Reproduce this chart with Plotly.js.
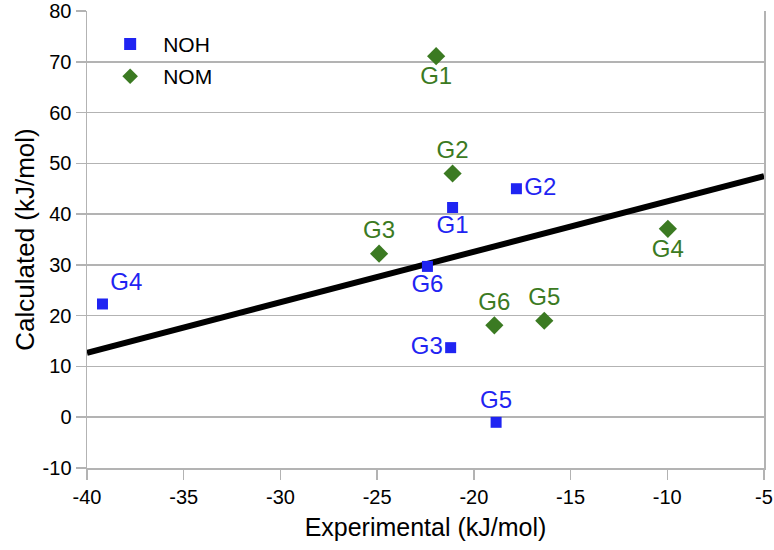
<!DOCTYPE html>
<html>
<head>
<meta charset="utf-8">
<script src="https://cdn.plot.ly/plotly-3.0.1.min.js"></script>
<style>html,body{margin:0;padding:0;background:#fff;}#chart{width:774px;height:550px;}</style>
</head>
<body>
<div id="chart"></div>
<script>
const nohLabels = ["G1","G2","G3","G4","G5","G6"];
const nohX = [-21.1, -17.8, -21.2, -39.2, -18.85, -22.4];
const nohY = [41.3, 45.0, 13.7, 22.3, -1.0, 29.7];

const nomLabels = ["G1","G2","G3","G4","G5","G6"];
const nomX = [-21.95, -21.1, -24.9, -9.97, -16.36, -18.94];
const nomY = [71.1, 48.0, 32.2, 37.1, 19.0, 18.1];

const fitX = [-40, -5];
const fitY = [12.7, 47.5];

const xTicks = [-40, -35, -30, -25, -20, -15, -10, -5];
const yTicks = [-10, 0, 10, 20, 30, 40, 50, 60, 70, 80];

const blue = "#1f24f2";
const green = "#3b7a22";
const font = "Liberation Sans, Arial, sans-serif";

const nohPos = ["bottom center","middle right","middle left","top right","top center","bottom center"];
const nomPos = ["bottom center","top center","top center","bottom center","top center","top center"];

const traces = [
  {x: fitX, y: fitY, mode: "lines", line: {color: "#000", width: 6}, showlegend: false, hoverinfo: "skip"},
  {x: nohX, y: nohY, mode: "markers+text", name: "NOH", legendgroup: "a", text: nohLabels, textposition: nohPos,
   marker: {symbol: "square", size: 11, color: blue}, textfont: {color: blue, size: 24, family: font}},
  {x: nomX, y: nomY, mode: "markers+text", name: "NOM", legendgroup: "b", text: nomLabels, textposition: nomPos,
   marker: {symbol: "diamond", size: 14, color: green}, textfont: {color: green, size: 24, family: font}}
];

const layout = {
  width: 774, height: 550,
  margin: {l: 87, r: 10, t: 11, b: 82},
  paper_bgcolor: "#fff", plot_bgcolor: "#fff",
  font: {family: font, color: "#000", size: 20},
  showlegend: true,
  legend: {x: 0.015, y: 0.972, xanchor: "left", yanchor: "top", bgcolor: "rgba(0,0,0,0)",
           itemwidth: 56, itemsizing: "constant", traceorder: "grouped", tracegroupgap: 2,
           font: {size: 21, family: font, color: "#000"}},
  xaxis: {
    range: [-40, -5], tickvals: xTicks, ticktext: xTicks.map(String), ticklabeloverflow: "allow",
    showgrid: false, zeroline: false, showline: true, linecolor: "#b3b3b3", linewidth: 1.5, mirror: false,
    ticks: "outside", ticklen: 10, tickcolor: "#b3b3b3", tickwidth: 1.5,
    tickfont: {size: 20, family: font, color: "#000"},
    title: {text: "Experimental (kJ/mol)", font: {size: 25, family: font, color: "#000"}, standoff: 12}
  },
  yaxis: {
    range: [-10, 80], tickvals: yTicks, ticktext: yTicks.map(String), ticklabeloverflow: "allow",
    showgrid: true, gridcolor: "#b3b3b3", gridwidth: 1.5, zeroline: false,
    showline: true, linecolor: "#b3b3b3", linewidth: 1.5, mirror: true,
    ticks: "outside", ticklen: 10, tickcolor: "#b3b3b3", tickwidth: 1.5,
    tickfont: {size: 20, family: font, color: "#000"},
    title: {text: "Calculated (kJ/mol)", font: {size: 26, family: font, color: "#000"}, standoff: 0}
  }
};

Plotly.newPlot("chart", traces, layout, {displayModeBar: false, staticPlot: true});
</script>
</body>
</html>
